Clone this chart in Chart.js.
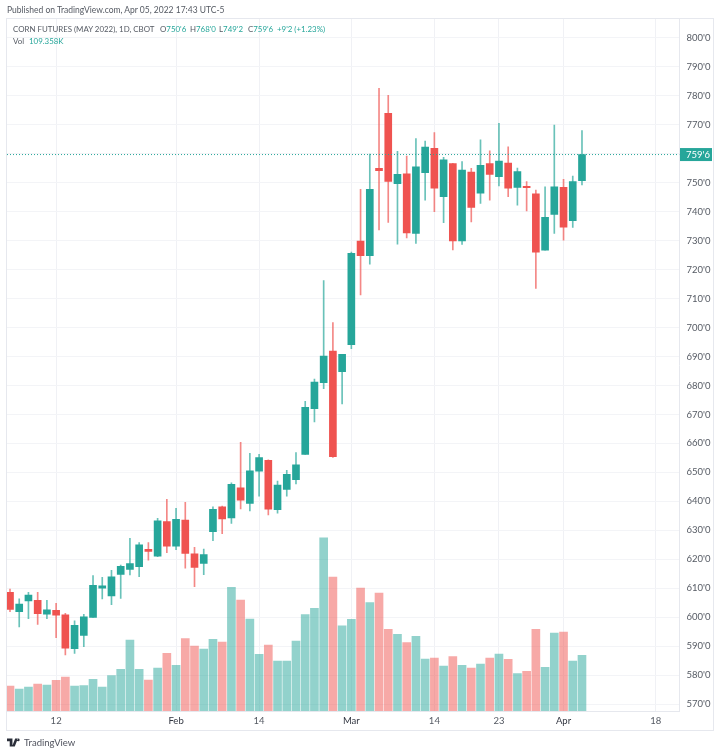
<!DOCTYPE html>
<html>
<head>
<meta charset="utf-8">
<script src="https://cdn.jsdelivr.net/npm/chart.js@4"></script>
<style>
html, body { margin: 0; padding: 0; background: #fff; }
body { width: 720px; height: 755px; position: relative; overflow: hidden; font-family: Lato, sans-serif; }
canvas { position: absolute; left: 0; top: 0; }
.frame { position: absolute; left: 6px; top: 18px; width: 706px; height: 711px; border: 1px solid #e6e8ee; }
.txt { position: absolute; white-space: nowrap; font-size: 8.5px; line-height: 12px; color: #555a63; }
.legend { font-size: 7.9px; }
.txt b { font-weight: normal; color: #26a69a; }
</style>
</head>
<body>
<div class="frame"></div>
<canvas id="cornChart" width="720" height="755"></canvas>
<div class="txt" style="left:7px;top:4px;">Published on TradingView.com, Apr 05, 2022 17:43 UTC-5</div>
<div class="txt legend" style="left:13px;top:23px;">CORN FUTURES (MAY 2022), 1D, CBOT</div>
<div class="txt legend" style="left:160px;top:23px;">O<b>750'6</b></div>
<div class="txt legend" style="left:190px;top:23px;">H<b>768'0</b></div>
<div class="txt legend" style="left:219px;top:23px;">L<b>749'2</b></div>
<div class="txt legend" style="left:248px;top:23px;">C<b>759'6</b></div>
<div class="txt legend" style="left:277px;top:23px;"><b>+9'2 (+1.23%)</b></div>
<div class="txt legend" style="left:13px;top:35px;">Vol</div>
<div class="txt legend" style="left:29px;top:35px;"><b>109.358K</b></div>
<svg style="position:absolute;left:7px;top:738px;" width="14" height="9" viewBox="0 0 36 20"><path fill="#2a2e39" d="M14 20H7V7H0V0h14zM28 0l-8 20h-7l8-20zM29 7a3.5 3.5 0 1 0 0-7 3.5 3.5 0 0 0 0 7z"/></svg>
<div class="txt" style="left:24px;top:737px;font-size:9.5px;color:#50535e;">TradingView</div>
<script>
// open, high, low, close, volume (K), daily from Jan 5 2022
const bars = [
    [608.6,609.7,601.9,602.7,49.1], [601.9,606.3,596.6,604.5,43.2], [605.6,608.6,599.5,607.6,47.1],
    [605.8,608.6,597.5,601.2,53.0], [601.0,605.8,599.5,602.5,51.0], [602.4,604.8,592.9,600.7,60.3],
    [600.8,601.3,587.0,589.3,66.7], [589.1,598.7,587.5,597.2,49.1], [593.7,601.0,589.8,600.1,49.7],
    [599.9,614.4,599.9,611.0,62.2], [610.0,613.8,606.3,610.8,47.1], [607.3,616.2,604.3,613.9,69.3],
    [614.8,618.0,606.5,617.6,81.9], [616.5,627.2,614.6,618.5,139.4], [617.4,625.8,614.0,625.0,81.9],
    [623.4,625.8,619.7,622.7,60.9], [621.1,634.1,620.9,633.3,84.4], [633.0,640.7,622.3,624.5,113.3],
    [624.5,637.6,623.3,633.8,89.7], [633.5,639.7,616.9,622.0,141.9], [621.9,624.1,610.5,617.2,127.6],
    [618.6,623.5,614.7,621.6,121.7], [629.5,638.1,626.4,637.2,140.7], [638.1,638.4,628.8,633.9,135.4],
    [634.3,646.4,632.4,645.9,242.8], [644.7,660.4,637.4,640.4,217.9], [639.3,656.6,636.7,650.5,180.6],
    [650.4,656.2,641.8,655.1,111.3], [654.2,654.3,635.3,637.3,129.6], [637.1,647.0,635.9,645.6,98.2],
    [644.1,650.7,641.8,649.3,98.2], [647.5,656.8,646.0,652.6,137.4], [656.2,674.5,656.2,672.5,189.0],
    [672.0,682.2,667.4,681.2,201.6], [681.0,716.2,678.9,690.2,339.6], [691.9,701.7,655.2,655.4,263.0],
    [684.8,690.8,673.6,690.8,166.9], [694.1,726.1,692.7,725.6,180.0], [729.9,747.7,711.3,724.8,241.4],
    [724.8,759.9,721.9,747.7,212.6], [755.0,782.6,733.7,754.2,231.6], [774.0,780.2,736.3,750.5,160.4],
    [749.7,760.9,728.8,752.9,150.6], [753.1,759.2,731.0,732.7,134.1], [732.5,765.3,729.1,755.5,146.6],
    [753.5,764.4,744.0,762.3,102.1], [761.9,767.3,740.0,748.1,104.0], [745.2,758.8,736.2,757.9,88.3],
    [756.6,756.7,726.8,729.9,106.6], [729.9,757.3,728.7,754.4,89.7], [753.7,755.0,736.5,741.5,84.4],
    [746.4,764.8,742.9,756.0,92.3], [756.6,761.0,744.0,752.9,104.0], [752.1,770.5,748.9,757.5,111.9],
    [756.8,762.4,745.2,748.1,101.5], [748.4,755.1,742.3,753.9,73.2], [748.8,750.4,740.3,748.3,77.9],
    [746.2,747.5,713.5,726.0,160.4], [726.7,748.6,726.7,738.1,85.8], [739.1,769.9,732.5,748.6,153.1],
    [748.4,751.2,730.2,734.7,155.1], [736.9,752.3,734.6,750.4,98.2], [750.75,768.0,749.25,759.75,109.358]
];

const xLabels = { 5: "12", 18: "Feb", 27: "14", 37: "Mar", 46: "14", 53: "23", 60: "Apr", 70: "18" };
const monthTicks = [18, 37, 60];
const xMin = -0.325, xMax = 72.57;
const lastClose = 759.75;

const UP = "#26a69a", DOWN = "#ef5350";
const colorOf = b => (b[3] >= b[0] ? UP : DOWN);
const volColorOf = b => (b[3] >= b[0] ? "rgba(38,166,154,0.5)" : "rgba(239,83,80,0.5)");

// y axis ticks read as 800'0 (eighths)
const priceLabel = v => {
    let whole = Math.floor(v);
    return whole + "'" + Math.round((v - whole) * 8);
};

const lastPriceTag = {
    id: "lastPriceTag",
    afterDraw(chart) {
        let y = chart.scales.y.getPixelForValue(lastClose);
        let ctx = chart.ctx;
        ctx.save();
        ctx.fillStyle = UP;
        ctx.fillRect(680, y - 6.5, 32, 13);
        ctx.fillStyle = "#fff";
        ctx.font = "9.5px Lato, sans-serif";
        ctx.textBaseline = "middle";
        ctx.fillText(priceLabel(lastClose), 686, y + 0.5);
        ctx.restore();
    }
};

new Chart(document.getElementById("cornChart").getContext("2d"), {
    data: {
        datasets: [
            {
                type: "line",
                data: [{ x: xMin, y: lastClose }, { x: xMax, y: lastClose }],
                borderColor: UP,
                borderWidth: 1,
                borderDash: [1, 2],
                pointRadius: 0,
                order: 1
            },
            {
                type: "bar",
                data: bars.map((b, i) => ({ x: i, y: [b[2], b[1]] })),
                backgroundColor: bars.map(b => colorOf(b) + "b0"),
                barThickness: 1,
                grouped: false,
                order: 3
            },
            {
                type: "bar",
                data: bars.map((b, i) => ({ x: i, y: [Math.min(b[0], b[3]), Math.max(b[0], b[3])] })),
                backgroundColor: bars.map(colorOf),
                barThickness: 7,
                grouped: false,
                order: 2
            },
            {
                type: "bar",
                data: bars.map((b, i) => ({ x: i, y: b[4] })),
                backgroundColor: bars.map(volColorOf),
                barThickness: 8,
                grouped: false,
                yAxisID: "yVol",
                order: 4
            }
        ]
    },
    options: {
        responsive: false,
        animation: false,
        layout: { padding: { left: 7, top: 19, right: 7.5, bottom: 25 } },
        plugins: { legend: { display: false }, tooltip: { enabled: false } },
        scales: {
            x: {
                type: "linear",
                offset: false,
                min: xMin,
                max: xMax,
                afterBuildTicks: scale => {
                    scale.ticks = Object.keys(xLabels).map(k => ({ value: Number(k) }));
                },
                afterFit: scale => { scale.height = 19; },
                grid: { color: "#f0f1f5", drawTicks: false, offset: false },
                border: { color: "#e6e8ee" },
                ticks: {
                    autoSkip: false,
                    maxRotation: 0,
                    padding: 4,
                    color: ctx => (monthTicks.includes(ctx.tick.value) ? "#333742" : "#555a63"),
                    font: { family: "Lato, sans-serif", size: 9.5 },
                    callback: v => xLabels[v]
                }
            },
            y: {
                position: "right",
                min: 567.6,
                max: 806.56,
                afterFit: scale => { scale.width = 33; },
                grid: { color: "#f3f4f7", drawTicks: false },
                border: { color: "#e6e8ee" },
                ticks: {
                    stepSize: 10,
                    autoSkip: false,
                    includeBounds: false,
                    padding: 7,
                    color: "#555a63",
                    font: { family: "Lato, sans-serif", size: 9.5 },
                    callback: v => priceLabel(v)
                }
            },
            yVol: {
                display: false,
                min: 0,
                max: 1358
            }
        }
    },
    plugins: [lastPriceTag]
});
</script>
</body>
</html>
